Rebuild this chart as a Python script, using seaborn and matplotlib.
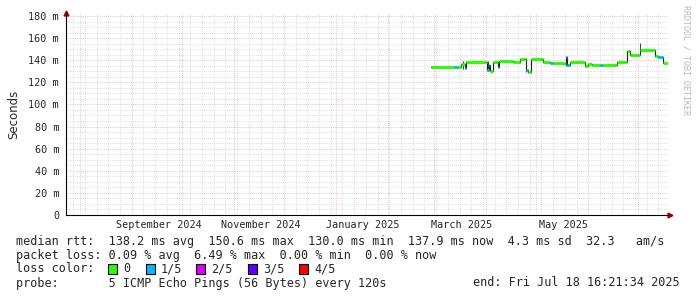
import pandas as pd
import numpy as np
import matplotlib
matplotlib.use("Agg")
import matplotlib.pyplot as plt
import matplotlib.dates as mdates
import matplotlib.transforms as mtrans
from matplotlib.patches import Rectangle
import seaborn as sns

# ---- data (median rtt in ms, loss level 0 = none, 1 = 1/5) ----
step_dates = ["2025-02-27 00:00", "2025-03-13 00:00", "2025-03-15 00:00", "2025-03-17 00:00", "2025-03-19 00:00",
              "2025-03-20 00:00", "2025-04-01 00:00", "2025-04-01 12:00", "2025-04-02 12:00", "2025-04-03 12:00",
              "2025-04-05 00:00", "2025-04-07 00:00", "2025-04-08 00:00", "2025-04-08 12:00", "2025-04-17 00:00",
              "2025-04-21 00:00", "2025-04-24 00:00", "2025-04-24 12:00", "2025-04-26 00:00", "2025-04-27 12:00",
              "2025-05-04 00:00", "2025-05-05 00:00", "2025-05-09 00:00", "2025-05-11 00:00", "2025-05-14 00:00",
              "2025-05-18 00:00", "2025-05-18 12:00", "2025-05-19 12:00", "2025-05-21 00:00", "2025-05-28 00:00",
              "2025-05-30 00:00", "2025-06-01 00:00", "2025-06-03 00:00", "2025-06-08 00:00", "2025-06-10 00:00",
              "2025-06-17 00:00", "2025-06-18 00:00", "2025-06-23 00:00", "2025-06-24 00:00", "2025-06-26 00:00",
              "2025-07-01 00:00", "2025-07-02 00:00", "2025-07-10 00:00", "2025-07-11 00:00", "2025-07-13 00:00",
              "2025-07-15 00:00", "2025-07-15 12:00", "2025-07-18 16:00"]
rtt_ms = [134.0, 134.0, 134.2, 137.0, 133.0,
          138.0, 138.0, 131.0, 136.0, 130.5,
          138.0, 138.3, 134.0, 139.0, 138.0,
          141.0, 141.2, 131.0, 129.7, 141.5,
          141.0, 138.0, 137.8, 137.5, 137.5,
          137.0, 143.0, 136.0, 138.0, 138.0,
          135.0, 137.0, 135.5, 135.5, 135.5,
          135.5, 138.0, 138.0, 148.0, 145.0,
          145.0, 149.5, 149.5, 144.0, 143.0,
          143.0, 137.5, 137.5]
loss_level = [0, 1, 0, 0, 1,
              0, 0, 1, 1, 0,
              0, 0, 1, 0, 0,
              0, 0, 1, 0, 0,
              0, 0, 1, 0, 0,
              0, 1, 1, 0, 0,
              0, 0, 0, 1, 0,
              0, 0, 0, 0, 0,
              0, 0, 0, 0, 1,
              1, 0, 0]
# a few visible smoke spikes (date, low ms, high ms)
smoke_dates = ["2025-03-18 00:00", "2025-04-02 00:00", "2025-04-24 12:00", "2025-05-18 12:00", "2025-07-02 00:00"]
smoke_lo = [132.0, 130.0, 129.0, 135.0, 146.0]
smoke_hi = [139.0, 139.0, 142.0, 144.0, 156.0]

loss_names = ["0", "1/5", "2/5", "3/5", "4/5"]
loss_colors = ["#26ff00", "#00b8ff", "#d600ff", "#5b00ff", "#ff0000"]

month_labels = ["September 2024", "November 2024", "January 2025", "March 2025", "May 2025"]
month_label_dates = ["2024-09-17", "2024-11-17", "2025-01-17", "2025-03-17", "2025-05-17"]

y_ticks_ms = [0, 20, 40, 60, 80, 100, 120, 140, 160, 180]

legend_lines = [
    "median rtt:  138.2 ms avg  150.6 ms max  130.0 ms min  137.9 ms now  4.3 ms sd  32.3   am/s",
    "packet loss: 0.09 % avg  6.49 % max  0.00 % min  0.00 % now",
    "loss color:",
    "probe:       5 ICMP Echo Pings (56 Bytes) every 120s",
]
end_text = "end: Fri Jul 18 16:21:34 2025"

end_time = pd.Timestamp("2025-07-18 16:21:34")
start_time = end_time - pd.Timedelta(days=360)

df = pd.DataFrame({"date": pd.to_datetime(step_dates, format="%Y-%m-%d %H:%M"),
                   "rtt": np.array(rtt_ms) / 1000.0,
                   "loss": loss_level})

# ---- figure ----
sns.set_style("white")
W, H = 697, 297
fig = plt.figure(figsize=(W / 100, H / 100), dpi=100)
fig.patch.set_facecolor("white")
ax = fig.add_axes([66 / W, 82 / H, 602 / W, 202 / H])
ax.set_facecolor("white")

mono = "DejaVu Sans Mono"

ax.set_xlim(start_time, end_time)
ax.set_ylim(0, 0.1827)

# grid: weekly / 5 m minor in grey, monthly / 20 m major in red
ax.xaxis.set_major_locator(mdates.MonthLocator())
ax.xaxis.set_minor_locator(mdates.WeekdayLocator(byweekday=mdates.SU))
ax.xaxis.set_major_formatter(plt.NullFormatter())
ax.set_yticks(np.array(y_ticks_ms) / 1000.0)
ax.set_yticks(np.arange(0, 0.181, 0.005), minor=True)
ax.set_yticklabels([("%d m" % v) if v else "0" for v in y_ticks_ms], fontfamily=mono, fontsize=7.3)
ax.grid(which="minor", color="#d4d4d4", linestyle=(0, (1, 1.5)), linewidth=0.6)
ax.grid(which="major", color="#eeaaaa", linestyle=(0, (1, 1.5)), linewidth=0.6)
ax.set_axisbelow(True)
ax.tick_params(axis="both", which="major", length=2, width=0.6, color="#606060", pad=3)
ax.tick_params(axis="both", which="minor", length=1, width=0.5, color="#909090")

for s in ["top", "right"]:
    ax.spines[s].set_visible(False)
for s in ["left", "bottom"]:
    ax.spines[s].set_color("#000000")
    ax.spines[s].set_linewidth(0.8)

# smoke spikes
ax.vlines(pd.to_datetime(smoke_dates, format="%Y-%m-%d %H:%M"), np.array(smoke_lo) / 1000,
          np.array(smoke_hi) / 1000, colors="#404040", linewidth=0.7, zorder=3)

# median line (black connectors) then loss-coloured segments
sns.lineplot(data=df, x="date", y="rtt", ax=ax, color="#202020", linewidth=0.8,
             drawstyle="steps-post", zorder=4, legend=False)
ax.hlines(df["rtt"].values[:-1], df["date"].values[:-1], df["date"].values[1:],
          colors=[loss_colors[l] for l in df["loss"].values[:-1]], linewidth=2.1, zorder=5)
ax.set_xlabel("")
ax.set_ylabel("Seconds", fontsize=8.5, labelpad=6)

# month labels centred in the month
tr = mtrans.blended_transform_factory(ax.transData, ax.transAxes)
for lab, d in zip(month_labels, month_label_dates):
    ax.text(mdates.date2num(pd.Timestamp(d)), -0.05, lab, transform=tr, ha="center", va="center",
            fontfamily=mono, fontsize=7.3)

# axis arrows
ax.plot([0], [1.0], marker="^", markersize=3.5, color="#a00000", transform=ax.transAxes, clip_on=False)
ax.plot([1.004], [0], marker=">", markersize=3.5, color="#a00000", transform=ax.transAxes, clip_on=False)

# watermark
fig.text(686 / W, 1 - 60 / H, "RRDTOOL / TOBI OETIKER", rotation=-90, ha="center", va="center",
         fontfamily=mono, fontsize=6, color="#b8b8b8")

# legend block
for i, line in enumerate(legend_lines):
    fig.text(16 / W, 1 - (241 + 14 * i) / H, line, ha="left", va="center",
             fontfamily=mono, fontsize=8.5)
fig.text(680 / W, 1 - 283 / H, end_text, ha="right", va="center", fontfamily=mono, fontsize=8.5)

box_x = [108, 146, 196, 248, 299]
for bx, name, col in zip(box_x, loss_names, loss_colors):
    fig.patches.append(Rectangle((bx / W, 1 - 274 / H), 9 / W, 10 / H, transform=fig.transFigure,
                                 facecolor=col, edgecolor="black", linewidth=0.8))
    fig.text((bx + 15) / W, 1 - 269 / H, name, ha="left", va="center", fontfamily=mono, fontsize=8.5)

fig.savefig("out.png", dpi=100)
